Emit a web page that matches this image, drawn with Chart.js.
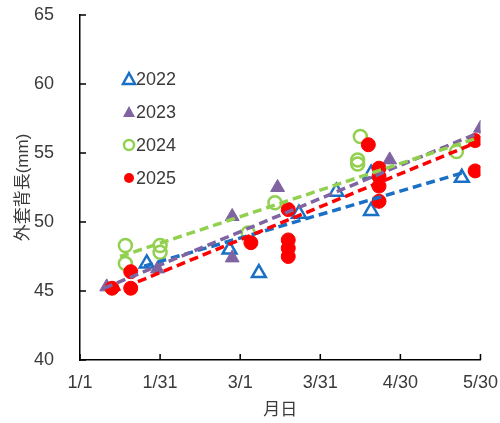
<!DOCTYPE html>
<html>
<head>
<meta charset="utf-8">
<script src="https://cdn.jsdelivr.net/npm/chart.js@4/dist/chart.umd.min.js"></script>
<style>
  html, body { margin: 0; padding: 0; background: #fff; }
  #wrap { width: 500px; height: 423px; }
</style>
</head>
<body>
<div id="wrap"><canvas id="chart"></canvas></div>
<script>
// x = days since 1/1, y = 外套背長 (mm)
const tickDays = [0, 30, 60, 90, 120, 150];
const tickLabels = ["1/1", "1/31", "3/1", "3/31", "4/30", "5/30"];

const days2022 = [25, 56, 67, 82, 96, 109, 109, 143];
const len2022  = [47.0, 48.0, 46.3, 50.6, 52.2, 53.5, 50.8, 53.2];

const days2023 = [10, 29, 57, 57, 74, 116, 150, 151];
const len2023  = [45.3, 46.6, 50.4, 47.4, 52.5, 54.5, 56.8, 53.8];

const days2024 = [17, 17, 30, 30, 63, 73, 105, 104, 104, 141];
const len2024  = [48.3, 47.0, 48.3, 47.8, 49.2, 51.4, 56.2, 54.5, 54.2, 55.1];

const days2025 = [12, 19, 19, 64, 78, 78, 78, 78, 108, 112, 112, 112, 112, 148, 148];
const len2025  = [45.2, 45.2, 46.4, 48.5, 50.9, 48.7, 48.1, 47.5, 55.6, 53.9, 53.3, 52.6, 51.5, 55.9, 53.7];

// trend line end points
const trendDays2022 = [24, 144], trendLen2022 = [46.8, 53.6];
const trendDays2023 = [9, 151],  trendLen2023 = [45.2, 56.6];
const trendDays2024 = [15, 149], trendLen2024 = [47.5, 56.1];
const trendDays2025 = [12, 149], trendLen2025 = [44.9, 55.8];

const years = ["2022", "2023", "2024", "2025"];
const colors = ["#1a70c4", "#8064a2", "#92d050", "#ff0000"];

function pts(xs, ys) {
  return xs.map((x, i) => ({ x: x, y: ys[i] }));
}

const jp = "'Liberation Sans', 'Noto Sans CJK JP', Arial, sans-serif";
const textColor = "#3a3a3a";

const trendStyle = (c, ord) => ({
  showLine: true, pointRadius: 0, borderColor: c, borderWidth: 3.5,
  borderDash: [9, 5], fill: false, order: ord
});

const datasets = [
  { label: "2022", data: pts(days2022, len2022), pointStyle: "triangle", pointRadius: 8,
    pointBorderWidth: 2.5, borderColor: colors[0], backgroundColor: "#fff", order: 8 },
  { label: "2023", data: pts(days2023, len2023), pointStyle: "triangle", pointRadius: 8,
    pointBorderWidth: 1, borderColor: colors[1], backgroundColor: colors[1], order: 7 },
  { label: "2024", data: pts(days2024, len2024), pointStyle: "circle", pointRadius: 6.5,
    pointBorderWidth: 2.5, borderColor: colors[2], backgroundColor: "rgba(255,255,255,0)", order: 6 },
  { label: "2025", data: pts(days2025, len2025), pointStyle: "circle", pointRadius: 7,
    pointBorderWidth: 1, borderColor: colors[3], backgroundColor: colors[3], order: 5 },
  Object.assign({ label: "t2022", data: pts(trendDays2022, trendLen2022) }, trendStyle(colors[0], 4)),
  Object.assign({ label: "t2023", data: pts(trendDays2023, trendLen2023) }, trendStyle(colors[1], 3)),
  Object.assign({ label: "t2024", data: pts(trendDays2024, trendLen2024) }, trendStyle(colors[2], 2)),
  Object.assign({ label: "t2025", data: pts(trendDays2025, trendLen2025) }, trendStyle(colors[3], 1))
];

// ticks drawn inward, like the original
const innerTicks = {
  id: "innerTicks",
  afterDatasetsDraw(chart) {
    const ctx = chart.ctx, a = chart.chartArea;
    const xs = chart.scales.x, ys = chart.scales.y;
    ctx.save();
    ctx.strokeStyle = "#000";
    ctx.lineWidth = 1.5;
    ctx.beginPath();
    xs.ticks.forEach(t => {
      const px = xs.getPixelForValue(t.value);
      ctx.moveTo(px, a.bottom); ctx.lineTo(px, a.bottom - 6);
    });
    ys.ticks.forEach(t => {
      const py = ys.getPixelForValue(t.value);
      ctx.moveTo(a.left, py); ctx.lineTo(a.left + 6, py);
    });
    ctx.stroke();
    ctx.restore();
  }
};

// legend inside the plot, vertical
const innerLegend = {
  id: "innerLegend",
  afterDraw(chart) {
    const ctx = chart.ctx;
    ctx.save();
    ctx.font = "18px " + jp;
    ctx.textBaseline = "middle";
    years.forEach((yr, i) => {
      const mx = 129, my = 79 + i * 33;
      const ds = datasets[i];
      ctx.beginPath();
      if (ds.pointStyle === "triangle") {
        ctx.moveTo(mx, my - 6); ctx.lineTo(mx + 6, my + 5); ctx.lineTo(mx - 6, my + 5); ctx.closePath();
      } else {
        ctx.arc(mx, my, 5, 0, Math.PI * 2);
      }
      if (i === 0 || i === 2) {
        ctx.strokeStyle = colors[i]; ctx.lineWidth = 2.5; ctx.stroke();
      } else {
        ctx.fillStyle = colors[i]; ctx.fill();
      }
      ctx.fillStyle = textColor;
      ctx.fillText(yr, 136, my + 1);
    });
    ctx.restore();
  }
};

new Chart(document.getElementById("chart"), {
  type: "scatter",
  data: { datasets: datasets },
  options: {
    responsive: true,
    maintainAspectRatio: false,
    animation: false,
    layout: { padding: { left: 13, right: 15, top: 15, bottom: 2 } },
    plugins: { legend: { display: false }, tooltip: { enabled: false } },
    scales: {
      x: {
        type: "linear", min: 0, max: 150,
        afterBuildTicks: s => { s.ticks = tickDays.map(v => ({ value: v })); },
        afterFit: s => { s.height = 61; },
        // invisible outer ticks only push the labels down
        grid: { display: true, drawOnChartArea: false, drawTicks: true, tickLength: 10,
                color: "rgba(0,0,0,0)" },
        border: { display: true, color: "#000", width: 1.5 },
        ticks: {
          padding: 2, color: textColor, font: { size: 18, family: jp },
          maxRotation: 0, autoSkip: false,
          callback: v => tickLabels[tickDays.indexOf(v)]
        },
        title: { display: true, text: "月日", color: textColor,
                 font: { size: 17, family: jp }, padding: { top: 0, bottom: 0 } }
      },
      y: {
        min: 40, max: 65,
        ticks: { stepSize: 5, padding: 4, color: textColor, font: { size: 18, family: jp } },
        afterFit: s => { s.width = 67; },
        grid: { display: true, drawOnChartArea: false, drawTicks: true, tickLength: 22,
                color: "rgba(0,0,0,0)" },
        border: { display: true, color: "#000", width: 1.5 },
        title: { display: true, text: "外套背長(mm)", color: textColor,
                 font: { size: 17, family: jp }, padding: { top: 0, bottom: 4 } }
      }
    }
  },
  plugins: [innerTicks, innerLegend]
});
</script>
</body>
</html>
